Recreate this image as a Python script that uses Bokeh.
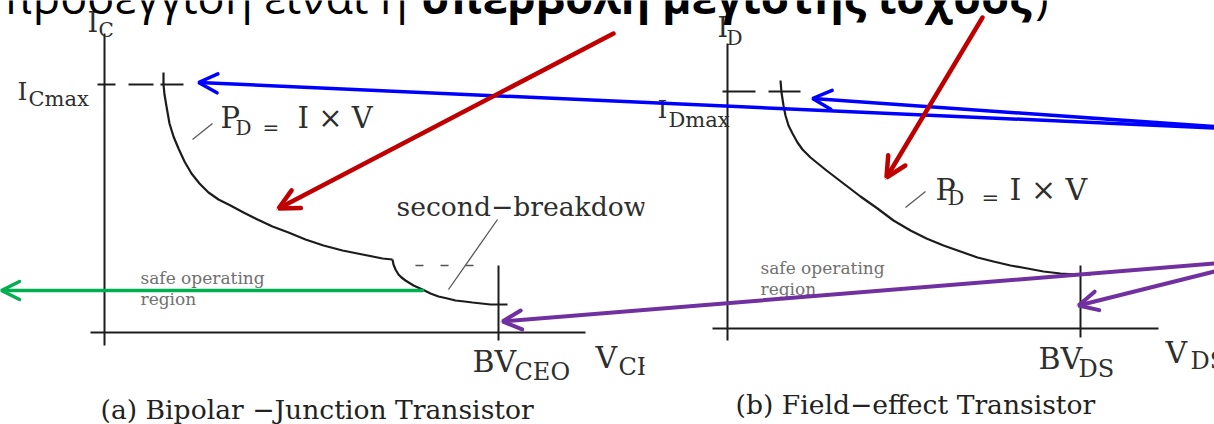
from bokeh.plotting import figure
from bokeh.models import Range1d, ColumnDataSource, Arrow, OpenHead
from bokeh.core.properties import value
from bokeh.embed import file_html
from bokeh.resources import INLINE

# ---------------- data (picture units: x to the right, y downwards) -------------
title_plain = "προσέγγιση είναι η"
title_bold = "υπερβολή μέγιστης ισχύος"
title_close = ")"

# (a) BJT: maximum-power hyperbola and second-breakdown branch
bjt_pd_v = [163, 163, 164, 166, 169, 173, 178, 184, 191, 199, 208, 218, 230, 243, 257, 272, 288, 305, 323, 342, 362, 382, 392]
bjt_pd_i = [72, 84, 94, 106, 123, 136, 148, 161, 173, 183, 192, 199, 205, 212, 219, 226, 232, 239, 245, 250, 254, 258, 259]
bjt_sb_v = [392, 393, 395, 398, 401, 405, 413, 422, 430, 438, 447, 455, 464, 472, 490, 507]
bjt_sb_i = [259, 264, 269, 274, 277, 280, 285, 289, 293, 296, 298, 300, 301, 302, 304, 304]

# (b) FET: maximum-power hyperbola
fet_pd_v = [780, 781, 783, 785, 788, 792, 797, 802, 810, 826, 843, 860, 877, 893, 910, 926, 943, 960, 977, 993,
            1010, 1027, 1043, 1060, 1077, 1090]
fet_pd_i = [80, 92, 105, 115, 125, 133, 142, 149, 157, 170, 183, 196, 208, 220, 230, 238, 245, 251, 257, 261,
            265, 268, 271, 273, 274, 274]

# axes of the two panels (and the BV marks)
axis_x0 = [104, 90, 727, 712, 498, 1080]
axis_y0 = [33, 332, 43, 328, 265, 265]
axis_x1 = [104, 585, 727, 1158, 498, 1080]
axis_y1 = [345, 332, 340, 328, 340, 337]

# I_Cmax / I_Dmax dashes
imax_x0 = [97, 128, 160, 722, 768]
imax_x1 = [115, 153, 183, 755, 800]
imax_y = [84, 84, 84, 91, 91]

# second-breakdown dashed continuation
sb_dash_x = [415, 480]
sb_dash_y = [265, 265]

# leader lines
lead_x0 = [212, 925, 497]
lead_y0 = [123, 191, 219]
lead_x1 = [192, 905, 448]
lead_y1 = [139, 207, 289]

# annotation arrows (start -> tip)
blue_x0, blue_y0, blue_x1, blue_y1 = [1226, 1226], [128, 127], [198, 812], [82, 98]
red_x0, red_y0, red_x1, red_y1 = [613, 982], [33, 17], [278, 886], [208, 177]
green_x0, green_y0, green_x1, green_y1 = [422], [290], [1], [290]
purple_x0, purple_y0, purple_x1, purple_y1 = [1226, 1226], [262, 268], [502, 1078], [321, 305]

# texts (x = left edge, b = baseline, s = font size in px)
main_text = ["I", "I", "I", "I", "P", "I × V", "P", "I × V", "BV", "V", "BV", "V"]
main_x = [87, 17, 717, 657, 220, 297, 935, 1009, 472, 595, 1038, 1165]
main_b = [32, 100, 37, 118, 128, 128, 200, 200, 372, 368, 369, 363]
main_s = [27, 25, 27, 25, 29, 29, 30, 30, 30, 30, 30, 30]

sub_text = ["C", "Cmax", "D", "Dmax", "D", "=", "D", "=", "CEO", "CE", "DS", "DS"]
sub_x = [98, 28, 726, 668, 235, 262, 947, 981, 514, 618, 1078, 1190]
sub_b = [37, 106, 45, 127, 135, 135, 205, 205, 380, 375, 377, 369]
sub_s = [20, 21, 20, 21, 20, 20, 21, 21, 24, 24, 24, 24]

soa_text = ["safe operating", "region", "safe operating", "region"]
soa_x = [140, 140, 760, 760]
soa_b = [284, 305, 274, 295]

sb_label = ["second−breakdown"]
captions = ["(a) Bipolar −Junction Transistor", "(b) Field−effect Transistor"]
cap_x = [100, 735]
cap_b = [419, 414]

# ---------------- figure ----------------
INK = "#1c1c1c"
W, H = 1214, 424
p = figure(width=W, height=H, x_range=Range1d(0, W), y_range=Range1d(H, 0),
           x_axis_type=None, y_axis_type=None, output_backend="svg",
           toolbar_location=None, min_border=0)
p.outline_line_color = None
p.background_fill_color = "white"
p.border_fill_color = "white"

SERIF = value("DejaVu Serif")


def mid(baselines, sizes):
    # texts are anchored at their middle; the middle sits ~0.36 em above the baseline
    if not isinstance(sizes, list):
        sizes = [sizes] * len(baselines)
    return [b - 0.36 * s for b, s in zip(baselines, sizes)]


def px(sizes):
    return [f"{s}px" for s in sizes]


# axes and ticks
p.segment(x0=axis_x0, y0=axis_y0, x1=axis_x1, y1=axis_y1, line_color=INK, line_width=2)
p.segment(x0=imax_x0, y0=imax_y, x1=imax_x1, y1=imax_y, line_color=INK, line_width=2)
p.line(sb_dash_x, sb_dash_y, line_color="#555555", line_width=1.5, line_dash="8 17")
p.segment(x0=lead_x0, y0=lead_y0, x1=lead_x1, y1=lead_y1, line_color="#555555", line_width=1.3)

# curves
p.line(bjt_pd_v, bjt_pd_i, line_color=INK, line_width=2.2)
p.line(bjt_sb_v, bjt_sb_i, line_color=INK, line_width=2.2)
p.line(fet_pd_v, fet_pd_i, line_color=INK, line_width=2.2)

# labels
p.text(x=main_x, y=mid(main_b, main_s), text=main_text, text_font=SERIF, text_font_size=px(main_s),
       text_color="#2e2e2e", text_baseline="middle", text_align="left")
p.text(x=sub_x, y=mid(sub_b, sub_s), text=sub_text, text_font=SERIF, text_font_size=px(sub_s),
       text_color="#2e2e2e", text_baseline="middle", text_align="left")
p.text(x=soa_x, y=mid(soa_b, 17), text=soa_text, text_font=SERIF, text_font_size="17px",
       text_color="#707070", text_baseline="middle", text_align="left")
p.text(x=[396], y=mid([216], 26.6), text=sb_label, text_font=SERIF, text_font_size="26.6px",
       text_color="#2e2e2e", text_baseline="middle", text_align="left")
p.text(x=cap_x, y=mid(cap_b, 26.6), text=captions, text_font=SERIF, text_font_size="26.6px",
       text_color="#222222", text_baseline="middle", text_align="left")

# the left picture is cropped at its right edge
p.quad(left=[644], right=[706], top=[185], bottom=[392], fill_color="white", line_color=None)

# slide title line (cut at the top)
TF = value("Open Sans")
p.text(x=[407], y=mid([12], 45), text=[title_plain], text_font=TF, text_font_size="45px",
       text_color="black", text_align="right", text_baseline="middle")
p.text(x=[420], y=mid([12], 45), text=[title_bold], text_font=TF, text_font_size="45px",
       text_font_style="bold", text_color="black", text_align="left", text_baseline="middle")
p.text(x=[1048], y=mid([12], 45), text=[title_close], text_font=TF, text_font_size="45px",
       text_color="black", text_align="right", text_baseline="middle")


# annotation arrows
def arrows(x0, y0, x1, y1, color, width, size):
    src = ColumnDataSource(dict(x0=x0, y0=y0, x1=x1, y1=y1))
    p.add_layout(Arrow(x_start="x0", y_start="y0", x_end="x1", y_end="y1", source=src,
                       line_color=color, line_width=width, line_cap="round",
                       end=OpenHead(size=size, line_color=color, line_width=width, line_cap="round")))


arrows(blue_x0, blue_y0, blue_x1, blue_y1, "#0000ff", 3.5, 19)
arrows(red_x0, red_y0, red_x1, red_y1, "#c00000", 4.5, 20)
arrows(green_x0, green_y0, green_x1, green_y1, "#00b050", 3.5, 18)
arrows(purple_x0, purple_y0, purple_x1, purple_y1, "#7030a0", 4, 19)

open("out.html", "w").write(file_html(p, INLINE))
